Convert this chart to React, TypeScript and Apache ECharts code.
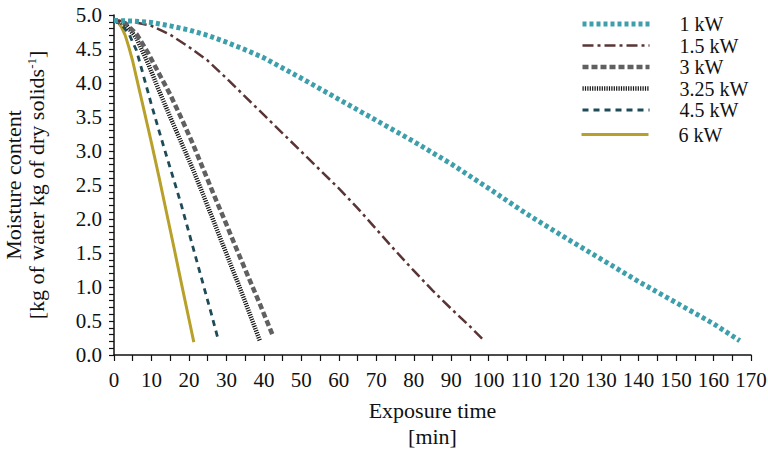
import React, { useEffect, useRef } from "react";
import * as echarts from "echarts";

const seriesNames = ["1 kW", "1.5 kW", "3 kW", "3.25 kW", "4.5 kW", "6 kW"];

const kw1: number[][] = [[0,4.92],[5,4.91],[10,4.89],[15,4.84],[20,4.78],[25,4.70],[30,4.60],[35,4.49],[40,4.37],[45,4.22],[50,4.07],[60,3.76],[70,3.45],[80,3.14],[90,2.81],[100,2.45],[110,2.08],[120,1.74],[130,1.41],[140,1.08],[150,0.77],[160,0.46],[167,0.21]];
const kw15: number[][] = [[0,4.92],[5,4.90],[10,4.84],[15,4.71],[20,4.53],[25,4.33],[30,4.07],[35,3.80],[40,3.53],[45,3.26],[50,2.99],[55,2.72],[60,2.45],[65,2.16],[70,1.85],[75,1.54],[80,1.24],[85,0.95],[90,0.68],[95,0.42],[99,0.20]];
const kw3: number[][] = [[0,4.92],[3,4.88],[6,4.72],[9,4.45],[12,4.14],[15,3.83],[18,3.48],[21,3.11],[24,2.71],[27,2.31],[30,1.92],[33,1.52],[36,1.13],[39,0.74],[42.5,0.27]];
const kw325: number[][] = [[0,4.92],[3,4.87],[6,4.66],[9,4.30],[12,3.89],[15,3.50],[18,3.12],[21,2.74],[24,2.33],[27,1.91],[30,1.49],[33,1.07],[36,0.64],[39,0.20]];
const kw45: number[][] = [[0,4.92],[2,4.86],[4,4.72],[6,4.48],[8,4.08],[10,3.68],[12,3.30],[14,2.93],[16,2.57],[18,2.20],[20,1.80],[22,1.40],[24,1.00],[26,0.60],[27.6,0.27]];
const kw6: number[][] = [[0,4.92],[1,4.90],[2,4.82],[3,4.70],[4,4.52],[5,4.32],[6,4.08],[7,3.84],[8,3.60],[9,3.36],[10,3.12],[11,2.87],[12,2.62],[14,2.10],[16,1.58],[18,1.05],[20,0.53],[21.3,0.19]];

const allData = [kw1, kw15, kw3, kw325, kw45, kw6];

const styles = [
  { color: "#3d9fab", width: 5, type: [4, 3] as number[] },
  { color: "#5b3535", width: 2.5, type: [11, 4, 3, 4] as number[] },
  { color: "#606060", width: 4.5, type: [6, 3] as number[] },
  { color: "#151515", width: 4.5, type: [1.2, 1.2] as number[] },
  { color: "#1d4b58", width: 2.8, type: [6, 5] as number[] },
  { color: "#b8a12a", width: 3, type: "solid" as any },
];

const FONT = "'Liberation Serif', 'Times New Roman', serif";

export default function App() {
  const ref = useRef<HTMLDivElement>(null);
  useEffect(() => {
    if (!ref.current) return;
    const chart = echarts.init(ref.current, null, { renderer: "svg" });
    const legendCommon = {
      orient: "vertical",
      left: 580,
      padding: 0,
      itemWidth: 67,
      itemHeight: 14,
      itemGap: 0.5,
      itemStyle: { color: "rgba(0,0,0,0)", borderColor: "rgba(0,0,0,0)", borderWidth: 0 },
      lineStyle: { width: "inherit", type: "inherit", color: "inherit" },
      textStyle: { fontFamily: FONT, fontSize: 20, color: "#111", lineHeight: 21, padding: [0, 0, 0, 25] },
    };
    chart.setOption({
      animation: false,
      backgroundColor: "#fff",
      textStyle: { fontFamily: FONT },
      grid: { left: 114, right: 17, top: 15, bottom: 94, containLabel: false, outerBoundsMode: "none" },
      legend: [
        { ...legendCommon, top: 13.5, data: seriesNames.slice(0, 5) },
        { ...legendCommon, top: 124, data: seriesNames.slice(5) },
      ],
      xAxis: {
        type: "value",
        min: 0,
        max: 170,
        interval: 10,
        name: "Exposure time\n[min]",
        nameLocation: "middle",
        nameGap: 42,
        nameTextStyle: { fontFamily: FONT, fontSize: 22, color: "#111", lineHeight: 26, verticalAlign: "top" },
        axisLine: { lineStyle: { color: "#111", width: 1.5 } },
        axisTick: { length: 6, lineStyle: { color: "#111", width: 1.2 } },
        minorTick: { show: true, splitNumber: 2, length: 6, lineStyle: { color: "#111", width: 1.2 } },
        axisLabel: { fontFamily: FONT, fontSize: 21, color: "#111", margin: 14 },
        splitLine: { show: false },
      },
      yAxis: {
        type: "value",
        min: 0,
        max: 5,
        interval: 0.5,
        name: "{a|Moisture content}\n{a|[kg of water kg of dry solids}{s|-1}{a|]}",
        nameLocation: "middle",
        nameRotate: 90,
        nameGap: 66,
        nameTextStyle: {
          fontFamily: FONT,
          fontSize: 22,
          color: "#111",
          rich: {
            a: { fontFamily: FONT, fontSize: 22, color: "#111", lineHeight: 23 },
            s: { fontFamily: FONT, fontSize: 13, color: "#111", lineHeight: 23, verticalAlign: "top", padding: [0, 0, 10, 0] },
          },
        },
        axisLine: { show: true, lineStyle: { color: "#111", width: 1.5 } },
        axisTick: { show: true, length: 5, lineStyle: { color: "#111", width: 1.2 } },
        minorTick: { show: true, splitNumber: 5, length: 5, lineStyle: { color: "#111", width: 1.2 } },
        axisLabel: { fontFamily: FONT, fontSize: 21, color: "#111", margin: 12, formatter: (v: number) => v.toFixed(1) },
        splitLine: { show: false },
      },
      series: seriesNames.map((name, i) => ({
        name,
        type: "line",
        data: allData[i],
        smooth: false,
        symbol: "none",
        showSymbol: false,
        z: 10 - i,
        itemStyle: { color: styles[i].color },
        lineStyle: { color: styles[i].color, width: styles[i].width, type: styles[i].type, cap: "butt", join: "round" },
      })),
    });
    return () => chart.dispose();
  }, []);
  return <div ref={ref} style={{ width: 768, height: 449, position: "absolute", left: 0, top: 0 }} />;
}
